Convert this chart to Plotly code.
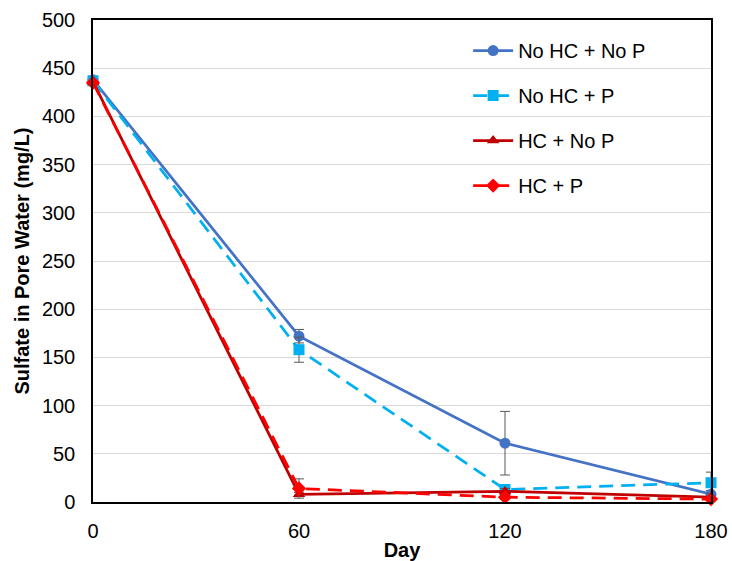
import plotly.graph_objects as go

days = [0, 60, 120, 180]
series_names = ["No HC + No P", "No HC + P", "HC + No P", "HC + P"]
nohc_nop = [438, 172, 61, 8]
nohc_p = [437, 158, 13, 20]
hc_nop = [436, 8, 11, 5]
hc_p = [435, 14, 5, 3]
err_nohc_nop = [0, 7, 33, 4]
err_nohc_p = [0, 13, 3, 11]
err_hc_nop = [0, 2, 3, 1]
err_hc_p = [0, 10, 2, 1]

colors = ["#4472C4", "#00B0F0", "#C00000", "#FF0000"]
dashes = ["solid", "14px,8px", "solid", "14px,8px"]
symbols = ["circle", "square", "triangle-up", "diamond"]
values = [nohc_nop, nohc_p, hc_nop, hc_p]
errors = [err_nohc_nop, err_nohc_p, err_hc_nop, err_hc_p]

fig = go.Figure()
for i in range(4):
    fig.add_trace(go.Scatter(
        x=days, y=values[i], name=series_names[i], mode="lines+markers",
        line=dict(color=colors[i], width=2.75, dash=dashes[i]),
        marker=dict(symbol=symbols[i], size=11, color=colors[i]),
        error_y=dict(type="data", array=errors[i], visible=True,
                     color="#595959", thickness=1, width=5),
        legendgroup=f"g{i}", cliponaxis=False,
    ))

fig.update_layout(
    width=732, height=561,
    margin=dict(l=93, r=21, t=20, b=59),
    paper_bgcolor="white", plot_bgcolor="white",
    font=dict(family="Liberation Sans, Arial, sans-serif", size=20, color="black"),
    legend=dict(x=0.607, y=0.977, xanchor="left", yanchor="top",
                bgcolor="rgba(0,0,0,0)", font=dict(size=20),
                tracegroupgap=16, itemwidth=40),
    showlegend=True,
)
fig.update_xaxes(range=[0, 180], tickvals=days, ticks="", showgrid=False,
                 showline=True, linecolor="black", linewidth=1.5, mirror=True,
                 zeroline=False, ticklabelstandoff=10, automargin=False,
                 title=dict(text="<b>Day</b>", font=dict(size=20), standoff=2))
fig.update_yaxes(range=[0, 500], dtick=50, ticks="", showgrid=True,
                 gridcolor="#D9D9D9", gridwidth=1,
                 showline=True, linecolor="black", linewidth=1.5, mirror=True,
                 zeroline=False, ticklabelstandoff=12, automargin=False,
                 title=dict(text="<b>Sulfate in Pore Water (mg/L)</b>", font=dict(size=20), standoff=7))

fig.write_html("out.html")
